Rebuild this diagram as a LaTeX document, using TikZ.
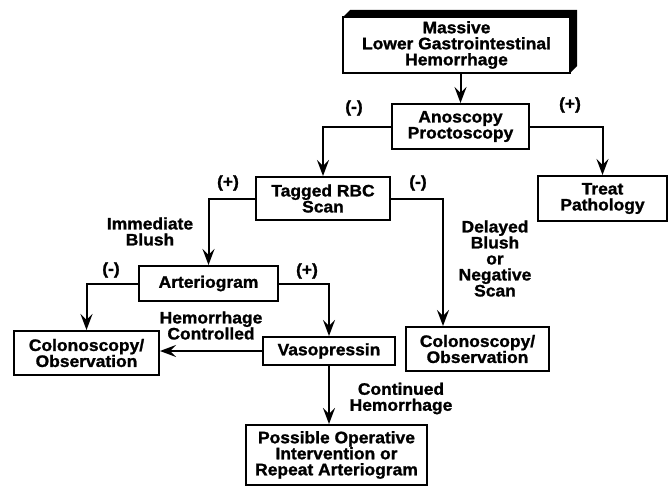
\documentclass[tikz,border=0pt]{standalone}
\usepackage{fontspec}
\setsansfont{Liberation Sans}[FakeStretch=1.05,FakeBold=1.3]
\usepackage{tikz}
\usetikzlibrary{arrows.meta,positioning,calc}

\begin{document}
\begin{tikzpicture}[x=1pt,y=-1pt,line width=2pt,
    every node/.style={font=\sffamily\bfseries\fontsize{16.6}{16}\selectfont,align=center,inner sep=0pt},
    box/.style={draw,minimum width=#1},
    arr/.style={-{Stealth[length=16pt,width=12pt,inset=6pt]}}]
  \useasboundingbox (0,0) rectangle (670,487);
  % 3D top box
  \fill (343,17) -- (350,10) -- (577,10) -- (577,66) -- (570,73) -- (570,17) -- cycle;
  \node[box=227,minimum height=56] (top) at (456.5,45) {Massive\\Lower Gastrointestinal\\Hemorrhage};
  % boxes
  \node[box=137,minimum height=45] (ano) at (460.5,126.5) {Anoscopy\\Proctoscopy};
  \node[box=134,minimum height=43] (tag) at (323,198.5) {Tagged RBC\\Scan};
  \node[box=129,minimum height=45] (treat) at (602.5,198.5) {Treat\\Pathology};
  \node[box=139,minimum height=35] (art) at (208.5,283.5) {Arteriogram};
  \node[box=145,minimum height=44] (colL) at (86.5,353) {Colonoscopy/\\Observation};
  \node[box=143,minimum height=44] (colR) at (477.5,349) {Colonoscopy/\\Observation};
  \node[box=132,minimum height=28] (vaso) at (329,351) {Vasopressin};
  \node[box=181,minimum height=60] (poss) at (336.5,455) {Possible Operative\\Intervention or\\Repeat Arteriogram};
  % connectors
  \draw[arr] (ano.north |- top.south) -- (ano.north);
  \draw[arr] (ano.west) -| (tag.north);
  \draw[arr] (ano.east) -| (treat.north);
  \draw[arr] (tag.west) -| (art.north);
  \draw[arr] (tag.east) -| ([xshift=38]colR.north west);
  \draw[arr] (art.west) -| (colL.north);
  \draw[arr] (art.east) -| (vaso.north);
  \draw[arr] (vaso.west) -- (vaso.west -| colL.east);
  \draw[arr] (vaso.south) -- (vaso.south |- poss.north);
  % labels
  \node (m1) at (354,108) {(-)};
  \node (p1) at (570,105) {(+)};
  \node (p2) at (228,183) {(+)};
  \node (m2) at (418,183) {(-)};
  \node (m3) at (111,270) {(-)};
  \node (p3) at (307,271) {(+)};
  \node (imm) at (150,231.5) {Immediate\\Blush};
  \node (del) at (495,258.5) {Delayed\\Blush\\or\\Negative\\Scan};
  \node (ctl) at (211,325.5) {Hemorrhage\\Controlled};
  \node (cont) at (401,398.5) {Continued\\Hemorrhage};
\end{tikzpicture}
\end{document}
